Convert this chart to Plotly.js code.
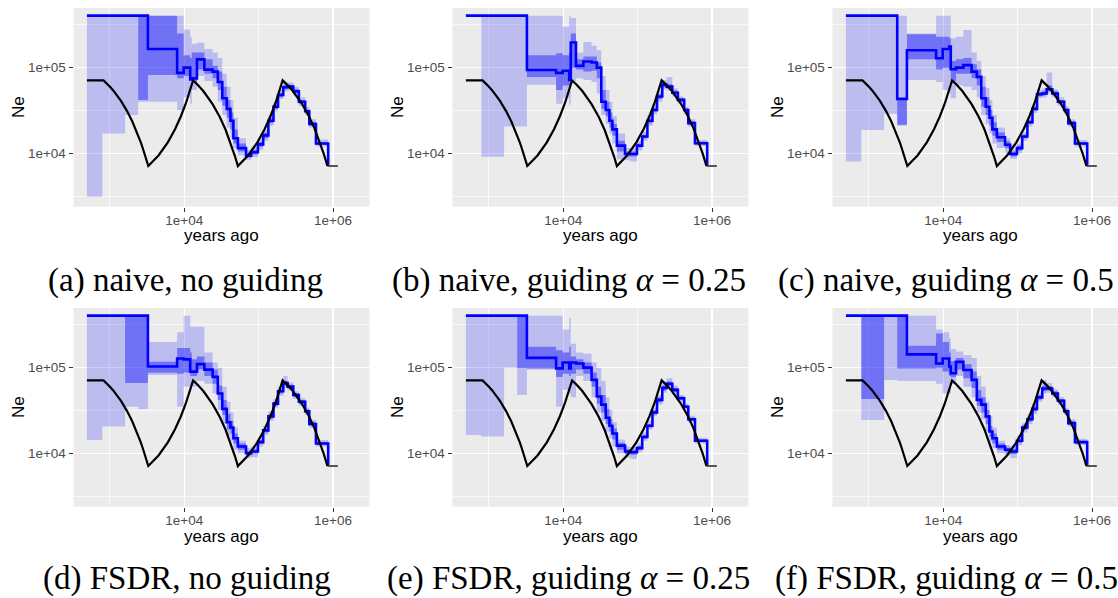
<!DOCTYPE html>
<html>
<head>
<meta charset="utf-8">
<script src="https://cdn.plot.ly/plotly-3.0.1.min.js"></script>
<style>
  html, body { margin: 0; padding: 0; background: #ffffff; overflow: hidden; }
  #chart { width: 1118px; height: 598px; }
</style>
</head>
<body>
<div id="chart"></div>
<script>
// Epoch boundaries (years ago) shared by every reconstruction
const epochYears = [490, 790, 1600, 2400, 3240, 8000, 9800, 12000, 12600, 14800, 18600,
  24000, 28200, 32400, 37200, 41700, 45700, 52500, 67600, 79400, 97700, 115000, 135000,
  158000, 182000, 214000, 245000, 292000, 347000, 422000, 479000, 589000, 860000];

// Simulated (true) population size history
const trueYears = [490, 820, 1000, 1100, 1400, 1700, 2000, 2300, 2600, 2750, 2900, 3100, 3200, 3280,
  4500, 6000, 7500, 9000, 10500, 11200, 12000, 12600, 13120,
  15000, 18000, 24000, 30000, 36000, 42000, 45000, 48000, 50500, 52480,
  72000, 96000, 120000, 144000, 168000, 180000, 192000, 200000, 209920,
  250000, 290000, 380000, 470000, 560000, 650000, 700000, 740000, 800000, 820000, 839680];
const trueNe = [71000, 71000, 60000, 54600, 41200, 31100, 23500, 17700, 13400, 11600, 10100, 8400, 7660, 7100,
  9430, 13400, 19100, 27100, 38400, 45300, 54700, 62800, 71000,
  63600, 53300, 37500, 26500, 18700, 13100, 11000, 9230, 7960, 7100,
  9430, 13400, 19100, 27100, 38400, 45800, 54700, 61400, 71000,
  61300, 52900, 38100, 27400, 19800, 14200, 11800, 10200, 8200, 7620, 7100];
const tailYears = [839680, 1160000];
const tailNe = [7100, 7100];

// Estimates per epoch, in thousands: point estimate, outer band, inner band
const neA   = [405,405,405,405,165,87,100,73,75,125,95,90,68,44,33,24,15,11.5,9.4,10.3,12.7,16.2,24,35,48,59,60,53,40,31,22,13];
const lo95A = [3.1,17,28,40,40,32,45,38,55,80,70,60,40,28,20,15,11.5,9.5,8.4,9,11,14,21,31,43,53,54,47,36,28,20,12];
const hi95A = [405,405,405,405,405,405,280,230,190,195,165,150,130,85,60,42,26,15,11,12,15,19,28,40,55,67,67,60,45,35,25,14.5];
const lo50A = [400,400,400,42,82,75,80,70,68,95,85,75,55,36,26,19,13,10.5,8.9,9.7,12,15,22.5,33,45,56,57,50,38,29.5,21,12.5];
const hi50A = [405,405,405,405,405,250,140,130,150,150,125,105,90,60,42,30,19,13,10,11,13.5,17.5,26,37,51,63,63,56,42,32.5,23,13.5];

const neB   = [405,405,405,405,94,87,92,72,197,105,118,115,100,40,32,24,19,12.3,9.8,9.8,12.3,15.7,24,32,46,63,60,51,42,32,22.5,13.1];
const lo95B = [405,9.1,20.5,20.5,63,38,44,37,70,75,72,68,50,28,22,17,13,8.5,8.3,8,10.8,14,21,28.5,40,56,54,46,38,29,20.5,12.2];
const hi95B = [405,405,405,405,405,405,300,405,380,150,200,180,160,80,55,40,27,17,11.5,11.5,14,18,28,37,53,72,78,57,46,35,25,14.3];
const lo50B = [400,400,400,400,78,55,62,58,100,95,90,92,75,33,27,20,16,10.5,9.2,9.2,11.7,15,22.5,30.5,43,60,57,49,40,30.5,21.5,12.7];
const hi50B = [405,405,405,405,140,147,140,150,250,125,135,135,115,55,40,30,22,14,10.5,10.5,13,16.5,25.5,34,49,67,64,54,44,33.5,23.5,13.6];

const neC   = [405,405,405,43,160,129,165,177,96,100,107,90,78,44,35,26,19,15.4,12.6,9.8,11.5,15.7,23,33,49,50,56,50,40,32,22.5,13];
const lo95C = [8,18.7,29,21,72,68,55,50,44,62,60,55,45,28,22,17,13,11.5,10.2,8.6,10,14,20.5,29.5,44,45,50,45,36,29,20.5,12];
const hi95C = [405,405,405,405,250,405,405,405,220,230,275,150,120,80,58,42,28,20,15,11.2,13,17.5,26,37,55,57,88,56,45,35.5,25,14.3];
const lo50C = [400,400,400,21.5,125,95,100,95,70,85,85,75,62,35,28,21,16,13.5,11.5,9.2,10.8,15,22,31.5,46.5,47.5,53,47.5,38,30.5,21.5,12.5];
const hi50C = [405,405,405,45,245,230,230,220,120,125,130,110,95,60,45,32,23,17.5,13.8,10.5,12.3,16.5,24.5,35,52,53,62,53,42,33.5,23.5,13.5];

const neD   = [405,405,405,405,103,128,125,90,90,110,95,78,50,33,23,20,15,12,10,10.5,13.5,18.5,27,38,53,66,60,48,40,31,22,13];
const lo95D = [14.3,20.5,35,33,82,35,60,55,60,70,65,50,32,22,16,14,11,10,8.8,9,12,16.5,24,34,47,58,54,43,36,28,20,12];
const hi95D = [405,405,405,405,200,260,405,300,300,300,150,115,100,60,40,30,20,14,11.5,12,15.5,21,31,43,60,80,67,53,44,34,24.5,14.3];
const lo50D = [400,400,66,66,87,85,88,80,80,95,80,65,42,28,19,17,13,11,9.4,10,12.8,17.5,25.5,36,50,62,57,45.5,38,29.5,21,12.5];
const hi50D = [405,405,405,405,117,170,170,150,125,135,115,95,62,42,29,24,17,13,10.7,11.2,14.3,19.5,28.5,40,56,70,63,50.5,42,32.5,23,13.5];

const neE   = [405,405,405,405,130,98,115,98,115,112,100,72,46,37,26,21,17,12.3,10.5,10.3,11.5,15.5,21,30,42,58,65,55,44,35,25,14];
const lo95E = [16.4,15.7,100,48,95,35,55,50,45,80,70,45,30,24,18,15,12,10,9,8.6,10.3,14,19,27,37,51,58,49,40,32,23,13];
const hi95E = [405,405,405,405,405,405,280,380,190,150,145,115,100,70,45,32,23,14.5,12,11.8,13,17.5,24,34,48,68,75,62,48,38,27.5,15.2];
const lo50E = [400,400,400,99,98,78,85,80,85,95,85,60,38,30,22,18,14.5,11,9.8,9.6,11,14.8,20,28.5,39.5,54,61,52,42,33.5,24,13.5];
const hi50E = [405,405,405,405,176,160,150,175,135,125,115,88,60,48,33,25,19.5,13.3,11.2,11,12.2,16.3,22,32,45,62,69,58,46,36.5,26,14.5];

const neF   = [405,405,405,405,143,112,128,103,86,117,94,72,42,37,27,18,15,12,11,10.5,14,20,25,33,45,57,57,50,41,31,22.5,13.5];
const lo95F = [405,24.5,72,70,70,65,50,50,65,80,60,45,30,25,18,13.5,11.5,10,9.5,8.8,12.3,17.5,22,29,40,50,51,45,37,28,20.5,12.5];
const hi95F = [405,405,405,405,405,280,260,220,165,155,140,130,80,60,40,27,20,14,12.5,12,16,22.5,28.5,38,51,72,66,56,45,34,25,14.8];
const lo50F = [400,43,400,98,98,100,90,80,78,95,75,58,36,30,22,15.5,13,11,10.2,9.8,13.2,18.8,23.5,31,42.5,53,54,47.5,39,29.5,21.5,13];
const hi50F = [405,405,405,405,180,250,200,150,120,130,110,90,55,45,32,21,17,13,11.7,11.2,14.8,21.2,26.5,35,48,62,61,53,43,32.5,23.5,14];

const captions = [
  '(a) naive, no guiding',
  '(b) naive, guiding <i>α</i> = 0.25',
  '(c) naive, guiding <i>α</i> = 0.5',
  '(d) FSDR, no guiding',
  '(e) FSDR, guiding <i>α</i> = 0.25',
  '(f) FSDR, guiding <i>α</i> = 0.5'
];
const xTickVals = [1e4, 1e6];
const xTickText = ['1e+04', '1e+06'];
const yTickVals = [1e4, 1e5];
const yTickText = ['1e+04', '1e+05'];
const xMinorVals = [1e3, 1e5];
const yMinorVals = [Math.pow(10, 3.5), Math.pow(10, 4.5), Math.pow(10, 5.5)];
const THOUSAND = 1000;

const series = [
  [neA, lo95A, hi95A, lo50A, hi50A],
  [neB, lo95B, hi95B, lo50B, hi50B],
  [neC, lo95C, hi95C, lo50C, hi50C],
  [neD, lo95D, hi95D, lo50D, hi50D],
  [neE, lo95E, hi95E, lo50E, hi50E],
  [neF, lo95F, hi95F, lo50F, hi50F]
];

// Page geometry (pixels)
const W = 1118, H = 598;
const colLeft = [73.5, 452.5, 832.5];
const panelW = 296;
const rowTop = [8, 308];
const panelH = 198.7;
const xLogRange = [2.51, 6.49];
const yLogRange = [3.376, 5.697];
const pxPerDecade = panelW / (xLogRange[1] - xLogRange[0]);
const captionX = [[185, 569, 946], [187, 569, 946]];
const captionY = [280, 578];

const SANS = 'Liberation Sans, Arial, Helvetica, sans-serif';
const SERIF = 'Liberation Serif, Times New Roman, serif';

const px = v => v / W;
const py = v => 1 - v / H;
const scaled = arr => arr.map(v => v * THOUSAND);
const closeStep = arr => arr.concat([arr[arr.length - 1]]);

const traces = [];
const layout = {
  width: W, height: H,
  margin: {l: 0, r: 0, t: 0, b: 0},
  paper_bgcolor: '#FFFFFF',
  plot_bgcolor: '#EBEBEB',
  showlegend: false,
  annotations: []
};

series.forEach((s, i) => {
  const [ne, lo95, hi95, lo50, hi50] = s;
  const col = i % 3, row = Math.floor(i / 3);
  const suffix = i === 0 ? '' : String(i + 1);
  const xa = 'x' + suffix, ya = 'y' + suffix;
  const x0 = colLeft[col];
  const x1 = Math.min(W, x0 + panelW);
  const y0 = rowTop[row], y1 = y0 + panelH;

  layout['xaxis' + suffix] = {
    domain: [px(x0), px(x1)], anchor: ya, type: 'log',
    range: [xLogRange[0], xLogRange[0] + (x1 - x0) / pxPerDecade],
    tickmode: 'array', tickvals: xTickVals, ticktext: xTickText,
    ticks: 'outside', ticklen: 4, tickwidth: 1.1, tickcolor: '#333333',
    ticklabelstandoff: -3,
    tickfont: {family: SANS, size: 13.5, color: '#4D4D4D'},
    showgrid: true, gridcolor: '#FFFFFF', gridwidth: 1.4,
    minor: {tickmode: 'array', tickvals: xMinorVals, showgrid: true, gridcolor: '#FFFFFF', gridwidth: 0.7, ticks: ''},
    zeroline: false, showline: false, fixedrange: true
  };
  layout['yaxis' + suffix] = {
    domain: [py(y1), py(y0)], anchor: xa, type: 'log',
    range: yLogRange,
    tickmode: 'array', tickvals: yTickVals, ticktext: yTickText,
    ticks: 'outside', ticklen: 4, tickwidth: 1.1, tickcolor: '#333333',
    tickfont: {family: SANS, size: 13.5, color: '#4D4D4D'},
    showgrid: true, gridcolor: '#FFFFFF', gridwidth: 1.4,
    minor: {tickmode: 'array', tickvals: yMinorVals, showgrid: true, gridcolor: '#FFFFFF', gridwidth: 0.7, ticks: ''},
    zeroline: false, showline: false, fixedrange: true
  };

  const band = (lo, hi, fillcolor) => {
    traces.push({
      type: 'scatter', mode: 'lines', x: epochYears, y: closeStep(scaled(lo)),
      line: {shape: 'hv', width: 0, color: 'rgba(0,0,0,0)'},
      xaxis: xa, yaxis: ya, hoverinfo: 'skip'
    });
    traces.push({
      type: 'scatter', mode: 'lines', x: epochYears, y: closeStep(scaled(hi)),
      line: {shape: 'hv', width: 0, color: 'rgba(0,0,0,0)'},
      fill: 'tonexty', fillcolor: fillcolor,
      xaxis: xa, yaxis: ya, hoverinfo: 'skip'
    });
  };
  band(lo95, hi95, 'rgba(0,0,255,0.2)');
  band(lo50, hi50, 'rgba(0,0,255,0.4)');

  // point estimate as a step function, closing down onto the oldest true size
  traces.push({
    type: 'scatter', mode: 'lines', x: epochYears,
    y: scaled(ne).concat([tailNe[0]]),
    line: {shape: 'hv', width: 2.6, color: '#0000FF'},
    xaxis: xa, yaxis: ya
  });
  traces.push({
    type: 'scatter', mode: 'lines', x: tailYears, y: tailNe,
    line: {width: 2.2, color: '#555555'},
    xaxis: xa, yaxis: ya
  });
  traces.push({
    type: 'scatter', mode: 'lines', x: trueYears, y: trueNe,
    line: {width: 2.2, color: '#000000'},
    xaxis: xa, yaxis: ya
  });

  // axis titles and caption
  layout.annotations.push({
    xref: 'paper', yref: 'paper', x: px(x0 + panelW / 2), y: py(y0 + 228),
    xanchor: 'center', yanchor: 'middle', showarrow: false,
    text: 'years ago', font: {family: SANS, size: 17, color: '#000000'}
  });
  layout.annotations.push({
    xref: 'paper', yref: 'paper', x: px(x0 - 55.5), y: py(y0 + 99),
    xanchor: 'center', yanchor: 'middle', showarrow: false, textangle: -90,
    text: 'Ne', font: {family: SANS, size: 17, color: '#000000'}
  });
  layout.annotations.push({
    xref: 'paper', yref: 'paper', x: px(captionX[row][col]), y: py(captionY[row]),
    xanchor: 'center', yanchor: 'middle', showarrow: false,
    text: captions[i], font: {family: SERIF, size: 33, color: '#000000'}
  });
});

Plotly.newPlot('chart', traces, layout, {staticPlot: true, displayModeBar: false});
</script>
</body>
</html>
